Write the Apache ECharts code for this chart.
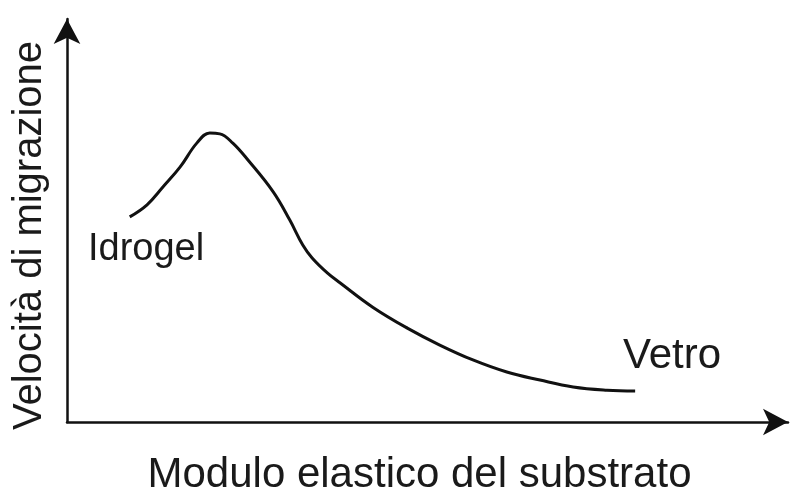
<!DOCTYPE html>
<html>
<head>
<meta charset="utf-8">
<script src="https://cdn.jsdelivr.net/npm/echarts@6/dist/echarts.min.js"></script>
<style>
  html, body { margin: 0; padding: 0; background: #fff; }
  #chart { width: 806px; height: 500px; }
</style>
</head>
<body>
<div id="chart"></div>
<script>
// curve, axes scaled 0..100 (no units in the original)
var modulo = [8.7, 11.1, 13.3, 15.7, 18.0, 19.8, 21.2, 23.0, 25.1, 28.6, 30.9, 32.7, 34.0, 36.1, 37.9, 42.4, 47.2, 51.7, 56.3, 61.0, 65.6, 70.2, 74.9, 78.8];
var velocita = [50.9, 53.9, 58.3, 63.3, 69.2, 71.7, 71.5, 69.2, 65.0, 57.1, 50.1, 43.9, 40.7, 37.0, 34.5, 28.5, 23.3, 19.1, 15.4, 12.4, 10.4, 8.7, 7.9, 7.7];
var xTitle = "Modulo elastico del substrato";
var yTitle = "Velocità di migrazione";

var font = "Liberation Sans, Arial, sans-serif";
var chart = echarts.init(document.getElementById("chart"));

var axisCommon = {
  type: "value",
  min: 0,
  max: 100,
  axisTick: { show: false },
  axisLabel: { show: false },
  splitLine: { show: false },
  nameLocation: "middle",
};

chart.setOption({
  animation: false,
  grid: { left: 67, right: 18, top: 19, bottom: 78, outerBoundsMode: "none" },
  xAxis: Object.assign({}, axisCommon, {
    name: xTitle,
    nameGap: 32,
    nameTextStyle: { fontFamily: font, fontSize: 42, color: "#1a1a1a", padding: [0, 16, 0, 0] },
    axisLine: {
      lineStyle: { color: "#111", width: 2.5 },
      symbol: ["none", "arrow"],
      symbolSize: [20, 25],
    },
  }),
  yAxis: Object.assign({}, axisCommon, {
    name: yTitle,
    nameGap: 17,
    nameTextStyle: { fontFamily: font, fontSize: 40, color: "#1a1a1a", padding: [0, 30, 0, 0] },
    axisLine: {
      lineStyle: { color: "#111", width: 2.5 },
      symbol: ["none", "arrow"],
      symbolSize: [20, 25],
    },
  }),
  series: [
    {
      type: "line",
      data: modulo.map(function (x, i) {
        return [x, velocita[i]];
      }),
      smooth: 0.4,
      symbol: "none",
      lineStyle: { color: "#111", width: 3 },
    },
  ],
  graphic: [
    {
      type: "text",
      left: 88,
      top: 231,
      style: { text: "Idrogel", fontFamily: font, fontSize: 38, fill: "#1a1a1a" },
    },
    {
      type: "text",
      left: 623,
      top: 335,
      style: { text: "Vetro", fontFamily: font, fontSize: 42, fill: "#1a1a1a" },
    },
  ],
});
</script>
</body>
</html>
